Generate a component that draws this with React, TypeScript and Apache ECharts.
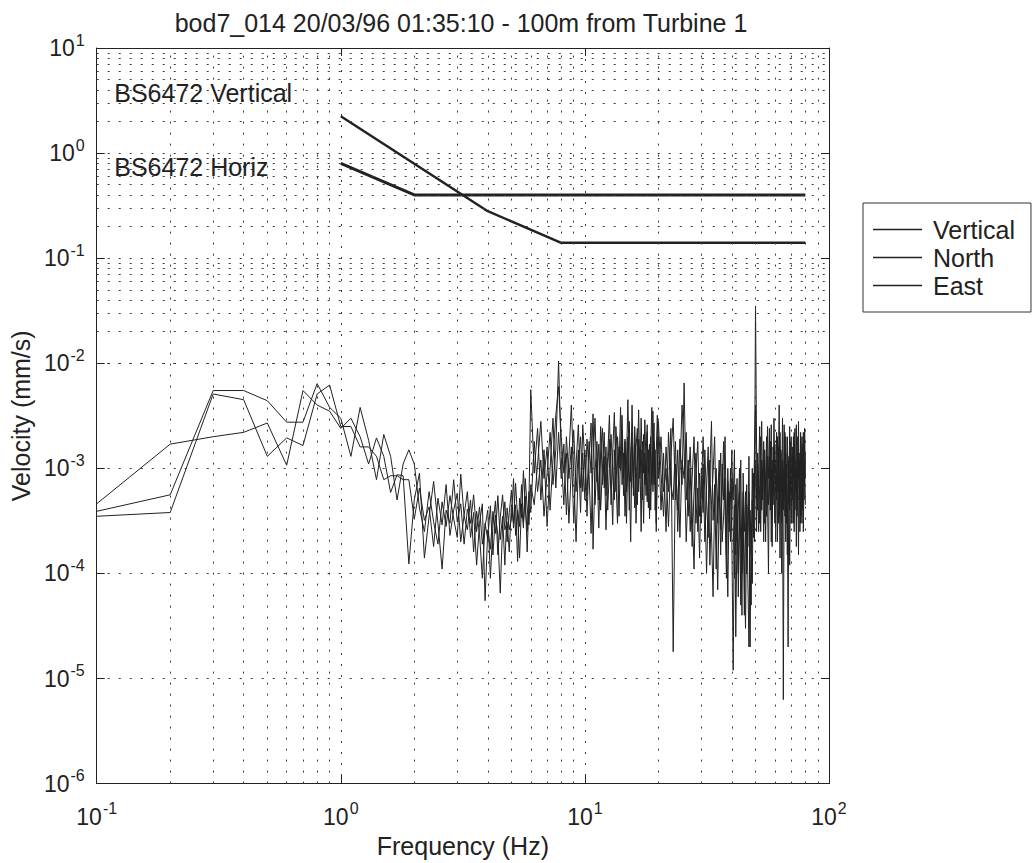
import React, { useEffect, useRef } from "react";
import * as echarts from "echarts";

const TITLE = "bod7_014 20/03/96 01:35:10 - 100m from Turbine 1";
const X_NAME = "Frequency (Hz)";
const Y_NAME = "Velocity (mm/s)";
const SERIES_NAMES = ["Vertical", "North", "East"];
const BS_VERTICAL_LABEL = "BS6472 Vertical";
const BS_HORIZ_LABEL = "BS6472 Horiz";

// FFT frequency bins: [start, end, step] (Hz)
const FREQ_SEGMENTS: number[][] = [
  [0.1, 6.0, 0.1],
  [6.2, 20.0, 0.2],
  [20.5, 80.0, 0.5],
];

// Velocity spectra (mm/s), one value per frequency bin
const VERTICAL = [
  3.9e-4, 5.6e-4, 5.5e-3, 5.5e-3, 4.4e-3, 2.75e-3, 2.75e-3, 6.4e-3, 3.8e-3, 3.0e-3,
  1.3e-3, 3.8e-3, 1.85e-3, 7.8e-4, 2.1e-3, 1.3e-3, 5.0e-4, 1.1e-3, 1.5e-3, 1.1e-3,
  4.2e-4, 2.5e-4, 6.0e-4, 3.1e-4, 1.9e-4, 4.8e-4, 2.8e-4, 5.5e-4, 3.3e-4, 2.2e-4,
  8.8e-4, 3.5e-4, 2.6e-4, 5.0e-4, 1.6e-4, 3.9e-4, 2.4e-4, 9.0e-5, 3.0e-4, 2.1e-4,
  4.4e-4, 1.5e-4, 3.6e-4, 2.3e-4, 6.5e-5, 2.9e-4, 4.8e-4, 2.0e-4, 3.8e-4, 6.2e-4,
  2.7e-4, 4.5e-4, 1.3e-4, 5.2e-4, 3.4e-4, 9.5e-4, 4.1e-4, 2.5e-4, 6.0e-4, 3.8e-4,
  1.8e-3, 6.0e-4, 1.2e-3, 3.5e-4, 9.0e-4, 2.2e-3, 7.0e-4, 1.5e-3, 1.05e-2, 1.3e-3,
  4.5e-4, 2.0e-3, 8.0e-4, 1.6e-3, 3.0e-4, 1.1e-3, 2.6e-3, 6.5e-4, 1.4e-3, 5.0e-4,
  1.9e-3, 9.0e-4, 2.4e-4, 1.2e-3, 3.0e-3, 7.5e-4, 1.7e-3, 4.0e-4, 1.0e-3, 2.2e-3,
  5.5e-4, 1.3e-3, 3.2e-3, 8.5e-4, 2.9e-4, 1.5e-3, 6.0e-4, 2.0e-3, 1.0e-3, 3.8e-3,
  7.0e-4, 1.4e-3, 3.5e-4, 1.1e-3, 4.5e-3, 9.5e-4, 2.0e-4, 1.6e-3, 6.5e-4, 2.5e-3,
  1.2e-3, 4.5e-4, 1.9e-3, 8.0e-4, 3.0e-3, 1.0e-3, 3.0e-4, 1.4e-3, 5.5e-4, 2.2e-3,
  9.0e-4, 1.7e-3, 4.0e-4, 1.2e-3, 3.5e-3, 7.0e-4, 1.5e-3, 2.5e-4, 1.0e-3, 2.8e-3,
  9.0e-4, 3.5e-4, 1.6e-3, 6.0e-4, 2.4e-3, 1.8e-5, 1.1e-3, 4.0e-4, 1.9e-3, 7.0e-4,
  6.5e-3, 5.0e-4, 1.2e-3, 2.5e-4, 8.0e-4, 2.0e-3, 3.0e-4, 6.5e-4, 1.4e-4, 1.0e-3,
  3.8e-4, 1.5e-3, 5.0e-4, 2.2e-4, 9.0e-4, 2.8e-3, 3.2e-4, 7.0e-4, 1.1e-4, 5.5e-4,
  1.2e-3, 2.6e-4, 6.0e-4, 1.8e-3, 4.0e-4, 9.0e-5, 7.5e-4, 3.0e-4, 1.0e-3, 2.0e-4,
  1.2e-5, 4.5e-4, 1.5e-4, 8.0e-4, 6.0e-5, 3.0e-4, 1.2e-3, 1.0e-4, 3.5e-4, 4.0e-5,
  2.5e-4, 7.0e-4, 9.0e-5, 2.0e-5, 4.0e-4, 1.5e-4, 1.0e-3, 2.2e-4, 6.0e-4, 3.5e-2,
  1.6e-3, 4.0e-4, 9.0e-4, 2.5e-3, 2.5e-4, 1.2e-3, 6.0e-4, 1.8e-3, 3.0e-4, 8.0e-4,
  2.0e-3, 5.0e-4, 1.0e-4, 1.3e-3, 7.0e-4, 2.6e-3, 3.5e-4, 1.1e-3, 4.5e-4, 1.7e-3,
  6.0e-4, 2.2e-3, 2.0e-4, 9.0e-4, 4.0e-3, 5.0e-4, 1.4e-3, 3.0e-4, 8.0e-4, 6.3e-6,
  1.0e-3, 3.5e-4, 2.0e-3, 7.0e-4, 1.5e-4, 1.2e-3, 4.5e-4, 2.5e-3, 6.0e-4, 1.1e-3,
  3.0e-4, 1.6e-3, 8.0e-4, 2.2e-3, 4.0e-4, 1.0e-3, 1.8e-4, 1.4e-3, 6.5e-4, 2.8e-3,
  5.0e-4, 1.2e-3, 3.0e-4, 9.0e-4, 2.0e-3, 4.0e-4, 1.5e-3, 7.0e-4, 2.4e-3, 8.0e-4,
];

const NORTH = [
  3.5e-4, 3.8e-4, 5.1e-3, 4.5e-3, 1.3e-3, 1.95e-3, 1.65e-3, 5.1e-3, 6.2e-3, 2.5e-3,
  2.5e-3, 1.6e-3, 1.6e-3, 1.3e-3, 7.8e-4, 8.5e-4, 8.5e-4, 7.8e-4, 7.8e-4, 3.3e-4,
  6.5e-4, 3.2e-4, 4.3e-4, 1.8e-4, 5.2e-4, 2.9e-4, 7.0e-4, 2.3e-4, 4.0e-4, 5.8e-4,
  2.0e-4, 3.6e-4, 6.0e-4, 2.2e-4, 3.8e-4, 1.2e-4, 3.0e-4, 4.6e-4, 5.5e-5, 2.6e-4,
  1.7e-4, 3.9e-4, 2.4e-4, 5.5e-4, 2.1e-4, 3.5e-4, 1.2e-4, 4.2e-4, 2.6e-4, 3.3e-4,
  8.0e-4, 2.3e-4, 4.0e-4, 2.8e-4, 7.0e-4, 3.1e-4, 5.4e-4, 1.6e-4, 4.8e-4, 5.6e-3,
  9.0e-4, 2.4e-3, 5.0e-4, 1.5e-3, 2.8e-4, 1.0e-3, 3.0e-3, 6.5e-4, 2.2e-3, 8.0e-4,
  1.7e-3, 3.6e-4, 1.3e-3, 4.0e-3, 9.0e-4, 2.0e-4, 1.1e-3, 2.0e-3, 6.0e-4, 1.5e-3,
  3.5e-4, 1.2e-3, 2.7e-3, 1.7e-4, 9.0e-4, 1.8e-3, 5.0e-4, 2.5e-3, 7.0e-4, 1.3e-3,
  2.6e-4, 1.0e-3, 1.9e-3, 4.5e-4, 1.4e-3, 3.4e-3, 8.0e-4, 3.0e-4, 1.6e-3, 9.5e-4,
  2.3e-3, 5.5e-4, 1.8e-3, 3.0e-4, 1.2e-3, 2.8e-3, 7.5e-4, 4.0e-3, 1.0e-3, 4.2e-4,
  1.6e-3, 2.4e-3, 6.0e-4, 1.3e-3, 2.5e-4, 1.8e-3, 9.0e-4, 2.9e-3, 1.1e-3, 4.8e-4,
  1.5e-3, 3.3e-4, 2.0e-3, 7.0e-4, 1.2e-3, 2.7e-3, 4.0e-4, 1.4e-3, 3.2e-3, 8.0e-4,
  2.0e-3, 6.0e-4, 1.0e-3, 2.8e-4, 1.3e-3, 3.0e-3, 5.0e-4, 1.5e-3, 2.2e-4, 1.2e-3,
  8.0e-4, 2.2e-3, 3.5e-4, 1.0e-3, 1.8e-4, 6.0e-4, 1.4e-3, 2.5e-4, 9.0e-4, 3.0e-4,
  1.1e-3, 2.0e-4, 6.5e-4, 1.6e-3, 1.2e-4, 4.5e-4, 9.0e-4, 2.0e-3, 3.0e-4, 7.0e-5,
  5.0e-4, 1.4e-3, 2.0e-4, 3.5e-4, 8.0e-4, 1.5e-4, 1.0e-3, 2.5e-4, 5.5e-4, 1.5e-3,
  3.0e-4, 9.0e-5, 7.0e-4, 2.0e-4, 4.0e-4, 1.0e-3, 5.0e-5, 2.5e-4, 6.0e-4, 1.2e-4,
  3.0e-5, 4.5e-4, 1.8e-4, 6.0e-4, 2.0e-5, 3.0e-4, 8.0e-5, 9.0e-4, 2.0e-4, 1.2e-3,
  5.0e-4, 1.1e-3, 2.5e-4, 7.0e-4, 2.0e-3, 4.0e-4, 1.0e-3, 2.0e-4, 1.5e-3, 6.0e-4,
  3.5e-4, 1.3e-3, 8.0e-4, 2.4e-3, 4.0e-4, 1.0e-3, 1.8e-4, 1.6e-3, 7.0e-4, 3.0e-4,
  1.2e-3, 5.0e-4, 2.0e-3, 3.0e-4, 9.0e-4, 1.4e-4, 1.5e-3, 6.0e-4, 3.0e-3, 4.0e-4,
  9.0e-4, 2.2e-3, 2.0e-4, 1.1e-3, 5.5e-4, 2.0e-5, 1.3e-3, 4.0e-4, 1.8e-3, 3.0e-4,
  1.0e-3, 5.0e-4, 2.0e-3, 2.5e-4, 1.2e-3, 7.0e-4, 2.6e-3, 4.0e-4, 9.0e-4, 1.5e-4,
  1.4e-3, 6.0e-4, 2.2e-3, 3.5e-4, 1.0e-3, 1.7e-3, 2.5e-4, 8.0e-4, 1.2e-3, 4.5e-4,
];

const EAST = [
  4.6e-4, 1.7e-3, 2.0e-3, 2.2e-3, 2.7e-3, 1.07e-3, 5.5e-3, 4.0e-3, 3.5e-3, 2.4e-3,
  3.0e-3, 2.0e-3, 1.1e-3, 1.95e-3, 1.3e-3, 5.9e-4, 8.7e-4, 8.5e-4, 1.23e-4, 5.0e-4,
  9.0e-4, 1.4e-4, 3.5e-4, 7.5e-4, 3.0e-4, 1.1e-4, 4.0e-4, 3.0e-4, 7.8e-4, 3.1e-4,
  4.6e-4, 1.9e-4, 4.1e-4, 3.0e-4, 5.6e-4, 2.5e-4, 4.3e-4, 1.9e-4, 2.8e-4, 4.0e-4,
  9.0e-5, 2.9e-4, 4.9e-4, 1.5e-4, 3.4e-4, 5.6e-4, 2.6e-4, 3.1e-4, 1.6e-4, 4.5e-4,
  3.0e-4, 7.2e-4, 3.4e-4, 1.4e-4, 4.6e-4, 2.7e-4, 8.0e-4, 4.2e-4, 2.9e-4, 7.0e-4,
  4.5e-4, 1.1e-3, 2.8e-3, 8.0e-4, 1.6e-3, 4.0e-4, 1.2e-3, 3.2e-3, 6.0e-3, 2.0e-3,
  9.0e-4, 1.4e-3, 3.0e-4, 1.0e-3, 2.3e-3, 6.0e-4, 1.5e-3, 3.8e-4, 2.6e-3, 1.1e-3,
  5.5e-4, 1.8e-3, 9.0e-4, 3.3e-3, 4.5e-4, 1.2e-3, 2.7e-4, 1.4e-3, 2.4e-3, 6.5e-4,
  1.6e-3, 4.0e-4, 1.0e-3, 2.1e-3, 9.0e-4, 5.0e-4, 2.5e-3, 1.2e-3, 3.5e-4, 1.5e-3,
  3.2e-3, 8.0e-4, 1.9e-3, 6.0e-4, 2.0e-3, 4.0e-4, 1.3e-3, 2.2e-3, 5.5e-4, 1.7e-3,
  3.0e-4, 1.1e-3, 3.6e-3, 9.0e-4, 1.5e-3, 5.0e-4, 2.1e-3, 7.0e-4, 1.3e-3, 2.6e-3,
  4.2e-4, 1.0e-3, 1.6e-3, 3.8e-3, 6.0e-4, 1.8e-3, 9.0e-4, 3.0e-4, 1.2e-3, 2.0e-3,
  4.0e-4, 1.4e-3, 2.5e-4, 2.2e-3, 7.0e-4, 5.0e-4, 1.8e-3, 2.5e-4, 9.0e-4, 4.0e-3,
  1.5e-3, 2.0e-4, 7.0e-4, 1.6e-3, 4.0e-4, 1.1e-4, 9.0e-4, 1.8e-3, 3.5e-4, 6.0e-4,
  2.0e-3, 6.0e-4, 1.0e-4, 4.0e-4, 1.2e-3, 2.5e-4, 6.0e-5, 5.0e-4, 1.0e-3, 3.0e-4,
  8.0e-4, 1.5e-4, 1.1e-3, 5.0e-4, 2.0e-3, 3.0e-4, 6.0e-5, 6.0e-4, 2.0e-4, 8.0e-4,
  5.0e-4, 1.5e-3, 2.5e-5, 3.0e-4, 1.0e-4, 6.0e-4, 2.0e-4, 4.0e-5, 9.0e-4, 2.5e-4,
  6.0e-4, 1.0e-4, 3.0e-4, 1.3e-3, 1.0e-4, 5.0e-5, 5.0e-4, 2.5e-4, 1.5e-3, 4.0e-3,
  2.5e-4, 1.4e-3, 6.0e-4, 3.0e-4, 1.0e-3, 2.8e-3, 5.0e-4, 1.2e-3, 7.0e-4, 2.0e-4,
  1.0e-3, 2.5e-3, 4.5e-4, 6.0e-4, 1.8e-3, 2.0e-4, 1.2e-3, 5.5e-4, 3.0e-3, 9.0e-4,
  2.0e-4, 1.0e-3, 6.0e-4, 1.6e-3, 3.5e-4, 2.2e-3, 8.0e-4, 1.0e-4, 1.2e-3, 5.0e-4,
  2.6e-3, 6.0e-4, 1.4e-3, 3.0e-4, 2.0e-3, 8.0e-4, 1.0e-3, 1.2e-4, 7.0e-4, 2.0e-3,
  5.0e-4, 1.3e-3, 3.0e-4, 9.0e-4, 2.4e-3, 6.0e-4, 1.0e-3, 3.5e-4, 2.0e-3, 8.0e-4,
  1.2e-3, 2.5e-4, 1.8e-3, 7.0e-4, 3.0e-4, 1.1e-3, 2.2e-3, 5.0e-4, 9.0e-4, 1.4e-3,
];

// BS6472 criteria curves: [frequency Hz, velocity mm/s]
const BS_VERTICAL = [
  [1, 2.24],
  [4, 0.28],
  [8, 0.14],
  [80, 0.14],
];
const BS_HORIZ = [
  [1, 0.8],
  [2, 0.4],
  [80, 0.4],
];
// label anchors in data coordinates [Hz, mm/s]
const BS_VERTICAL_LABEL_AT = [0.118, 3.7];
const BS_HORIZ_LABEL_AT = [0.118, 0.74];

const X_MIN = 0.1;
const X_MAX = 100;
const Y_MIN = 1e-6;
const Y_MAX = 10;

const FONT = "'Liberation Sans', Arial, Helvetica, sans-serif";
const INK = "#222";

function buildBins(): number[] {
  const out: number[] = [];
  FREQ_SEGMENTS.forEach(([a, b, s]) => {
    const n = Math.round((b - a) / s);
    for (let i = 0; i <= n; i++) out.push(Math.round((a + i * s) * 100) / 100);
  });
  return out;
}

function minorPositions(minExp: number, maxExp: number): number[] {
  const out: number[] = [];
  for (let e = minExp; e < maxExp; e++) {
    for (let m = 2; m <= 9; m++) out.push(Number((m * Math.pow(10, e)).toPrecision(3)));
  }
  return out;
}

const sup = (v: number) => {
  const e = Math.round(Math.log10(v));
  return `{b|10}{s|${e}}`;
};

const richLabel = {
  b: { fontSize: 23, fontFamily: FONT, color: INK, lineHeight: 32 },
  s: { fontSize: 16, fontFamily: FONT, color: INK, lineHeight: 14, verticalAlign: "top", padding: [0, 0, 0, 1] },
};

export default function App() {
  const ref = useRef<HTMLDivElement>(null);

  useEffect(() => {
    if (!ref.current) return;
    const chart = echarts.init(ref.current, undefined, { renderer: "svg" });
    const freqs = buildBins();
    const zip = (vals: number[]) =>
      vals.slice(0, freqs.length).map((v, i) => [freqs[i], v]);

    const gridDots = { type: [2, 9] as any, color: "#3a3a3a", width: 1 };

    const baseX = {
      type: "log" as const,
      logBase: 10,
      min: X_MIN,
      max: X_MAX,
      splitNumber: 3,
    };
    const baseY = {
      type: "log" as const,
      logBase: 10,
      min: Y_MIN,
      max: Y_MAX,
      splitNumber: 7,
    };

    const lineSeries = [VERTICAL, NORTH, EAST].map((vals, i) => ({
      name: SERIES_NAMES[i],
      type: "line",
      data: zip(vals),
      symbol: "none",
      showSymbol: false,
      lineStyle: { color: INK, width: 1 },
      itemStyle: { color: INK },
      z: 3,
    }));

    const option: any = {
      animation: false,
      backgroundColor: "#ffffff",
      textStyle: { fontFamily: FONT, color: INK },
      grid: { left: 93, top: 48, right: 207, bottom: 73, show: false },
      graphic: [
        {
          type: "text",
          x: 461,
          y: 23,
          style: {
            text: TITLE,
            fill: INK,
            font: `25px ${FONT}`,
            textAlign: "center",
            textVerticalAlign: "middle",
          },
        },
      ],
      legend: {
        orient: "vertical",
        left: 863,
        top: 203,
        data: SERIES_NAMES.map((n) => ({ name: n, icon: "rect" })),
        itemWidth: 49,
        itemHeight: 1.5,
        itemGap: 3,
        padding: [14, 16, 14, 10],
        borderColor: "#333",
        borderWidth: 1,
        itemStyle: { color: INK },
        textStyle: { fontSize: 25, fontFamily: FONT, color: INK, padding: [0, 0, 0, 6] },
        selectedMode: false,
      },
      xAxis: [
        {
          ...baseX,
          position: "bottom",
          name: X_NAME,
          nameLocation: "middle",
          nameGap: 48,
          nameTextStyle: { fontSize: 25, fontFamily: FONT, color: INK },
          axisLine: { show: true, lineStyle: { color: INK, width: 1 } },
          axisTick: { show: true, inside: true, length: 8, lineStyle: { color: INK } },
          axisLabel: { margin: 17, formatter: sup, rich: richLabel, color: INK },
          splitLine: { show: true, lineStyle: gridDots },
        },
        {
          ...baseX,
          position: "top",
          axisLine: { show: true, lineStyle: { color: INK, width: 1 } },
          axisTick: { show: true, inside: true, length: 8, lineStyle: { color: INK } },
          axisLabel: { show: false },
          splitLine: { show: false },
        },
      ],
      yAxis: [
        {
          ...baseY,
          position: "left",
          name: Y_NAME,
          nameLocation: "middle",
          nameRotate: 90,
          nameGap: 58,
          nameTextStyle: { fontSize: 25, fontFamily: FONT, color: INK },
          axisLine: { show: true, lineStyle: { color: INK, width: 1 } },
          axisTick: { show: true, inside: true, length: 8, lineStyle: { color: INK } },
          axisLabel: { margin: 12, formatter: sup, rich: richLabel, color: INK },
          splitLine: { show: true, lineStyle: gridDots },
        },
        {
          ...baseY,
          position: "right",
          axisLine: { show: true, lineStyle: { color: INK, width: 1 } },
          axisTick: { show: true, inside: true, length: 8, lineStyle: { color: INK } },
          axisLabel: { show: false },
          splitLine: { show: false },
        },
      ],
      series: [
        {
          name: "minor-grid",
          type: "line",
          data: [],
          silent: true,
          z: 1,
          markLine: {
            silent: true,
            symbol: "none",
            animation: false,
            label: { show: false },
            lineStyle: gridDots,
            data: [
              ...minorPositions(-1, 2).map((v) => ({ xAxis: v })),
              ...minorPositions(-6, 1).map((v) => ({ yAxis: v })),
            ],
          },
        },
        ...lineSeries,
        {
          name: BS_VERTICAL_LABEL,
          type: "line",
          data: BS_VERTICAL,
          symbol: "none",
          lineStyle: { color: INK, width: 2.5 },
          z: 4,
          markPoint: {
            symbolSize: 0,
            animation: false,
            data: [
              {
                coord: BS_VERTICAL_LABEL_AT,
                label: {
                  show: true,
                  formatter: BS_VERTICAL_LABEL,
                  position: "right",
                  distance: 0,
                  fontSize: 25,
                  fontFamily: FONT,
                  color: INK,
                },
              },
            ],
          },
        },
        {
          name: BS_HORIZ_LABEL,
          type: "line",
          data: BS_HORIZ,
          symbol: "none",
          lineStyle: { color: INK, width: 3 },
          z: 4,
          markPoint: {
            symbolSize: 0,
            animation: false,
            data: [
              {
                coord: BS_HORIZ_LABEL_AT,
                label: {
                  show: true,
                  formatter: BS_HORIZ_LABEL,
                  position: "right",
                  distance: 0,
                  fontSize: 25,
                  fontFamily: FONT,
                  color: INK,
                },
              },
            ],
          },
        },
      ],
    };

    chart.setOption(option);
    return () => chart.dispose();
  }, []);

  return (
    <div
      ref={ref}
      style={{ position: "absolute", left: 0, top: 0, width: 1036, height: 863 }}
    />
  );
}
